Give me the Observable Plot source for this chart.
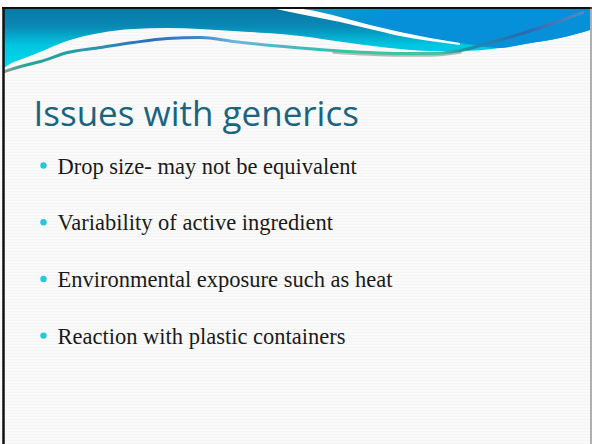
<!DOCTYPE html>
<html><head><meta charset="utf-8">
<script src="https://cdn.jsdelivr.net/npm/d3@7"></script>
<script src="https://cdn.jsdelivr.net/npm/@observablehq/plot@0.6"></script>
<style>
html,body{margin:0;padding:0;background:#fff;}
#chart svg{display:block;}
</style></head><body><div id="chart"></div>
<script>
// ---- content ----
const title = "Issues with generics";
const bullets = [
  "Drop size- may not be equivalent",
  "Variability of active ingredient",
  "Environmental exposure such as heat",
  "Reaction with plastic containers"
];

// ---- banner outline (slide pixel space) ----
const edgeX = [4, 10, 25, 40, 67, 100, 133, 167, 200, 233, 267, 300, 350, 400, 430, 460, 500, 525, 560, 590];
const edgeY = [68, 64, 58, 52, 41, 33, 29, 28, 29, 31, 33, 36, 43, 49, 51, 51, 48, 44, 38, 30];
const stripeX = [272, 290, 310, 340, 370, 400, 430, 460];
const stripeTop = [8, 8, 10, 17, 25, 32, 38, 43];
const stripeBottom = [8, 12, 16, 22, 29, 36, 41, 45];
const lineX = [4, 20, 40, 67, 100, 133, 167, 200, 233, 283, 333, 367, 400, 430, 460, 490, 525, 555, 582];
const lineY = [71, 66, 61, 52, 47, 42, 38, 37, 41, 46, 50, 52, 53, 53, 50, 42, 32, 22, 12];

// ---- layout ----
const W = 592, H = 444, TOP = 8;
const edge = edgeX.map((x, i) => ({x, y: edgeY[i]}));
const stripe = stripeX.map((x, i) => ({x, y1: stripeTop[i], y2: stripeBottom[i]}));
const rightRegion = stripeX.slice(1).map((x, i) => ({x, y: stripeTop[i + 1]}))
  .concat(edge.filter(d => d.x > 460));
const deco = lineX.map((x, i) => ({x, y: lineY[i]}));
const shadow = deco.filter(d => d.x >= 320 && d.x <= 470);

const chart = Plot.plot({
  width: W, height: H, margin: 0,
  x: {domain: [0, W], range: [0, W], axis: null},
  y: {domain: [0, H], range: [0, H], axis: null},
  style: {background: "repeating-linear-gradient(#fafafa 0px, #fafafa 2px, #f5f5f5 2px, #f5f5f5 3px)"},
  marks: [
    Plot.rect([0], {x1: 0, x2: W, y1: 0, y2: 7, fill: "white"}),
    Plot.areaY(edge, {x: "x", y1: () => TOP, y2: "y", curve: "monotone-x", fill: "url(#bannerGrad)"}),
    Plot.areaY(rightRegion, {x: "x", y1: () => TOP, y2: "y", curve: "monotone-x", fill: "url(#rightGrad)"}),
    Plot.areaY(stripe, {x: "x", y1: "y1", y2: "y2", curve: "monotone-x", fill: "white"}),
    Plot.line(shadow, {x: "x", y: "y", dy: 2, curve: "monotone-x", stroke: "#b8b8b8", strokeWidth: 2.5}),
    Plot.line(deco, {x: "x", y: "y", curve: "monotone-x", stroke: "url(#lineGrad)", strokeWidth: 3}),
    Plot.ruleY([7.5], {x1: 2, x2: W, stroke: "#111", strokeWidth: 2}),
    Plot.ruleX([3], {y1: 7, y2: H, stroke: "#111", strokeWidth: 2.5}),
    Plot.ruleX([590.5], {y1: 7, y2: H, stroke: "#666", strokeWidth: 1}),
    Plot.text([title], {x: () => 33, y: () => 125, text: d => d, fontSize: 35, fontFamily: "Open Sans",
      fill: "#1b6480", textAnchor: "start", lineAnchor: "bottom"}),
    Plot.dot(bullets, {x: () => 43, y: (d, i) => 165 + i * 56.7, r: 3.2, fill: "#22c8de", stroke: null}),
    Plot.text(bullets, {x: () => 57, y: (d, i) => 173 + i * 56.7, text: d => d, fontSize: 22.5,
      fontFamily: "Liberation Serif", fill: "#1a1a1a", textAnchor: "start", lineAnchor: "bottom"})
  ]
});

const svg = d3.select(chart);
const defs = svg.insert("defs", ":first-child");
function grad(id, attrs, stops) {
  const g = defs.append("linearGradient").attr("id", id).attr("gradientUnits", "userSpaceOnUse");
  for (const k in attrs) g.attr(k, attrs[k]);
  stops.forEach(([o, c]) => g.append("stop").attr("offset", o).attr("stop-color", c));
}
grad("bannerGrad", {x1: 0, y1: 8, x2: 0, y2: 68},
  [[0, "#0878a5"], [0.3, "#0a88b4"], [0.62, "#00c6e0"], [1, "#00dcec"]]);
grad("rightGrad", {x1: 300, y1: 8, x2: 320, y2: 50},
  [[0, "#08a2c2"], [1, "#0690da"]]);
grad("lineGrad", {x1: 4, y1: 0, x2: 582, y2: 0},
  [[0, "#8a9a98"], [0.04, "#20a890"], [0.15, "#2a98b0"], [0.25, "#2a70c0"], [0.33, "#3a84c8"],
   [0.4, "#6cb8d8"], [0.5, "#40b8c0"], [0.6, "#30c8a0"], [0.75, "#40c4a0"], [0.8, "#2090a8"],
   [0.9, "#2a68b0"], [1, "#5a88c0"]]);

document.getElementById("chart").append(chart);
</script></body></html>
